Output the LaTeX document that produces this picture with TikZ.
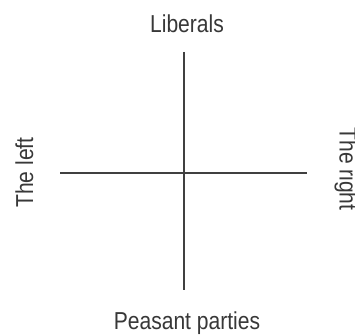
\documentclass[tikz,border=0pt]{standalone}
\usepackage{fontspec}
\setmainfont[FakeStretch=0.86]{Liberation Sans}
\begin{document}
\begin{tikzpicture}[x=1pt,y=1pt,
  lbl/.style={text=black!78, font=\fontsize{24.5}{28}\selectfont, inner sep=0pt, anchor=base},
  axis/.style={draw=black!75, line width=1.8pt}]
\useasboundingbox[fill=white] (0,0) rectangle (355,334);
\coordinate (top) at (184,282);
\coordinate (bottom) at (184,44);
\coordinate (left) at (60,161);
\coordinate (right) at (307,161);
\draw[axis] (top) -- (bottom);
\draw[axis] (left) -- (right);
\node[lbl] (lib) at (187,301) {Liberals};
\node[lbl] (peas) at (187,4.5) {Peasant parties};
\node[lbl, rotate=90] (tl) at (33,161.5) {The left};
\node[lbl, rotate=-90] (tr) at (339.5,165) {The right};
\end{tikzpicture}
\end{document}
